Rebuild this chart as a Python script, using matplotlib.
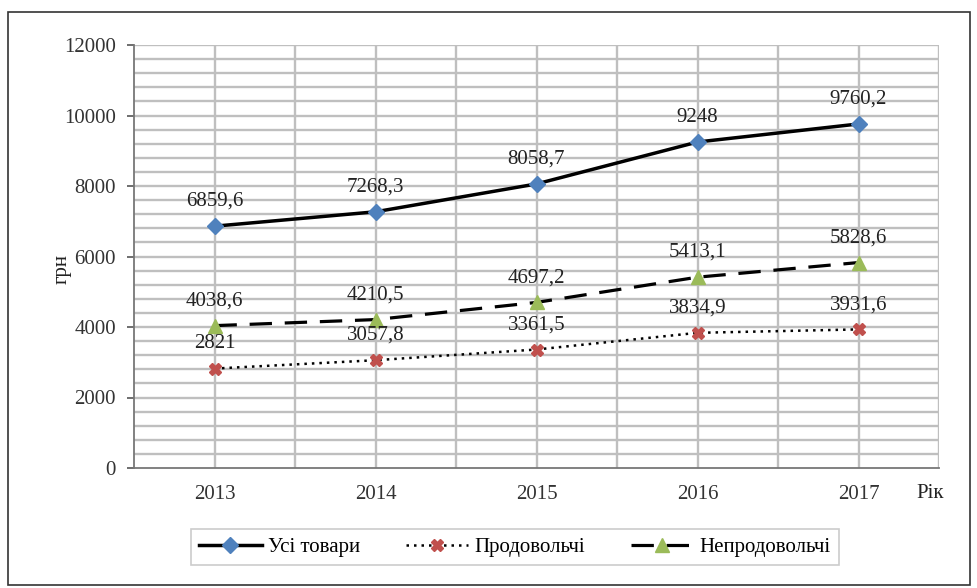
import matplotlib
matplotlib.use("Agg")
import matplotlib.pyplot as plt
from matplotlib.patches import Rectangle
import numpy as np

years = ["2013", "2014", "2015", "2016", "2017"]
all_goods = [6859.6, 7268.3, 8058.7, 9248, 9760.2]
food = [2821, 3057.8, 3361.5, 3834.9, 3931.6]
nonfood = [4038.6, 4210.5, 4697.2, 5413.1, 5828.6]
all_labels = ["6859,6", "7268,3", "8058,7", "9248", "9760,2"]
food_labels = ["2821", "3057,8", "3361,5", "3834,9", "3931,6"]
nonfood_labels = ["4038,6", "4210,5", "4697,2", "5413,1", "5828,6"]
series_names = ["Усі товари", "Продовольчі", "Непродовольчі"]

plt.rcParams['font.family'] = ['Liberation Serif', 'DejaVu Serif']
fs = 15

fig = plt.figure(figsize=(9.78, 5.88), dpi=100)
ax = fig.add_axes([134/978, 1-468/588, (939-134)/978, (468-45)/588])

x = np.arange(len(years)) + 0.5

grid_c = '#BFBFBF'
for yv in np.arange(400, 12001, 400):
    ax.axhline(yv, color=grid_c, lw=1.7, zorder=0)
for xv in np.arange(0.5, 5.01, 0.5):
    ax.axvline(xv, color=grid_c, lw=1.7, zorder=0)

l1, = ax.plot(x, all_goods, color='black', lw=2.5, marker='D', ms=8,
              markerfacecolor='#4F81BD', markeredgecolor='#4F81BD', zorder=3)
l2, = ax.plot(x, food, color='black', lw=1.8, ls=(0, (1, 2)), marker='X', ms=9,
              markerfacecolor='#C0504D', markeredgecolor='#C0504D', zorder=3)
l3, = ax.plot(x, nonfood, color='black', lw=2.3, ls=(0, (7, 4)), marker='^', ms=10,
              markerfacecolor='#9BBB59', markeredgecolor='#9BBB59', zorder=3)

for vals, labs in [(all_goods, all_labels), (food, food_labels), (nonfood, nonfood_labels)]:
    for xi, v, t in zip(x, vals, labs):
        ax.annotate(t, (xi, v), xytext=(0, 11), textcoords='offset points',
                    ha='center', va='bottom', fontsize=fs, color='#222222')

ax.set_xlim(0, 5)
ax.set_ylim(0, 12000)
ax.set_yticks(np.arange(0, 12001, 2000))
ax.set_yticklabels([str(v) for v in range(0, 12001, 2000)], fontsize=fs, color='#333333')
ax.set_xticks(x)
ax.set_xticklabels(years, fontsize=fs, color='#333333')
ax.tick_params(axis='x', length=0, pad=12)
ax.tick_params(axis='y', length=5, width=1.2, color='#555555', pad=8)
for s in ['top', 'right']:
    ax.spines[s].set_visible(False)
for s in ['left', 'bottom']:
    ax.spines[s].set_color('#777777')
    ax.spines[s].set_linewidth(1.3)

ax.set_ylabel('грн', fontsize=fs, color='#222222')
ax.yaxis.set_label_coords((72-134)/(939-134), 0.47)
fig.text(916/978, 1-493/588, 'Рік', fontsize=fs, color='#222222', ha='left', va='center')

leg = fig.legend([l1, l2, l3], series_names, loc='center',
                 bbox_to_anchor=(515/978, 1-547/588), ncol=3, fontsize=fs,
                 frameon=True, fancybox=False, edgecolor='#BFBFBF',
                 handlelength=3, handletextpad=0.3, columnspacing=2.2, borderpad=0.4)
leg.get_frame().set_linewidth(1.2)

fig.patches.append(Rectangle((8/978, 3/588), 962/978, (585-12)/588, transform=fig.transFigure,
                             fill=False, edgecolor='#333333', lw=1.2))

fig.savefig('out.png', dpi=100)
